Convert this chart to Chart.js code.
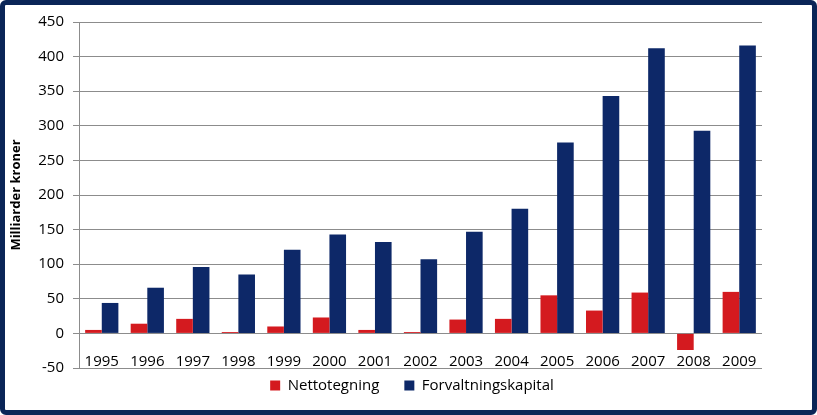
<!DOCTYPE html>
<html>
<head>
<meta charset="utf-8">
<script src="https://cdn.jsdelivr.net/npm/chart.js@4.4.0/dist/chart.umd.min.js"></script>
<style>
    html, body { margin: 0; padding: 0; background: #fff; }
    #wrap { position: relative; width: 817px; height: 415px; }
    #frame {
        position: absolute; left: 0; top: 0; width: 817px; height: 415px;
        box-sizing: border-box; border: 5px solid #0a2557; border-radius: 6px;
        pointer-events: none;
    }
</style>
</head>
<body>
<div id="wrap">
    <canvas id="barChart" width="817" height="415"></canvas>
    <div id="frame"></div>
</div>
<script>
const years = ['1995', '1996', '1997', '1998', '1999', '2000', '2001', '2002', '2003', '2004', '2005', '2006', '2007', '2008', '2009'];
const nettotegning = [5, 14, 21, 2, 10, 23, 5, 2, 20, 21, 55, 33, 59, -24, 60];
const forvaltningskapital = [44, 66, 96, 85, 121, 143, 132, 107, 147, 180, 276, 343, 412, 293, 416];

const fontName = '"Open Sans", sans-serif';
const redColour = '#d41a1f';
const blueColour = '#0d2868';

// legend in the original sits a bit right of the canvas centre
const shiftLegend = {
    id: 'shiftLegend',
    afterLayout(chart) {
        chart.legend.left += 27;
        chart.legend.right += 27;
    }
};

const target = document.getElementById('barChart').getContext('2d');

new Chart(target, {
    type: 'bar',
    data: {
        labels: years,
        datasets: [
            {
                label: 'Nettotegning',
                data: nettotegning,
                backgroundColor: redColour,
                borderWidth: 0
            },
            {
                label: 'Forvaltningskapital',
                data: forvaltningskapital,
                backgroundColor: blueColour,
                borderWidth: 0
            }
        ]
    },
    options: {
        responsive: false,
        animation: false,
        categoryPercentage: 0.73,
        barPercentage: 1.0,
        layout: {
            padding: { left: 8, right: 55, top: 22, bottom: 12 }
        },
        plugins: {
            tooltip: { enabled: false },
            legend: {
                position: 'bottom',
                labels: {
                    color: '#000',
                    boxWidth: 10,
                    boxHeight: 10,
                    padding: 10,
                    font: { family: fontName, size: 15 },
                    generateLabels: chart => chart.data.datasets.map((ds, i) => ({
                        text: i === 0 ? ds.label + '\u2002\u2002' : ds.label,
                        fillStyle: ds.backgroundColor,
                        strokeStyle: 'transparent',
                        lineWidth: 0,
                        datasetIndex: i
                    }))
                }
            }
        },
        scales: {
            x: {
                position: { y: 0 },
                grid: { display: false },
                border: { display: false },
                ticks: {
                    color: '#000',
                    padding: 11,
                    font: { family: fontName, size: 15 }
                }
            },
            y: {
                min: -50,
                max: 450,
                afterFit: scale => { scale.width = 71; },
                ticks: {
                    stepSize: 50,
                    color: '#000',
                    padding: 9,
                    font: { family: fontName, size: 15 }
                },
                grid: {
                    color: '#8c8c8c',
                    tickLength: 6
                },
                border: { color: '#8c8c8c' },
                title: {
                    display: true,
                    text: 'Milliarder kroner',
                    color: '#000',
                    padding: 0,
                    font: { family: fontName, size: 13, weight: 'bold' }
                }
            }
        }
    },
    plugins: [shiftLegend]
});
</script>
</body>
</html>
